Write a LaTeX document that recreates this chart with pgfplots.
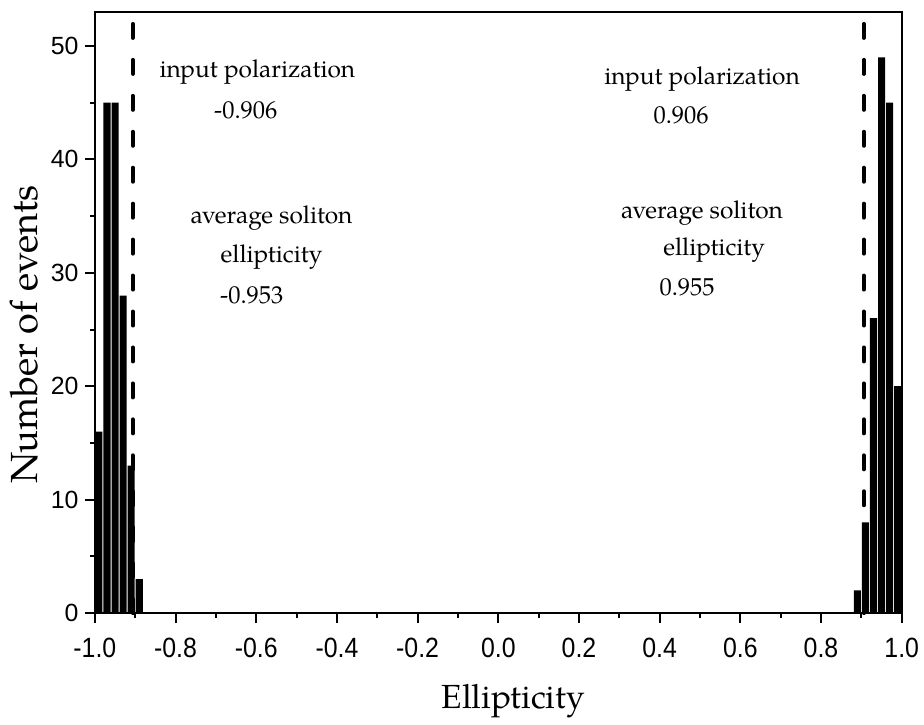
\documentclass[border=0pt]{standalone}
\usepackage{fontspec}
\setmainfont{TeX Gyre Pagella}
\setsansfont{Liberation Sans}
\usepackage{pgfplots}
\pgfplotsset{compat=1.18}

\begin{document}
\begin{tikzpicture}
\begin{axis}[
  scale only axis,
  width=404bp, height=301bp,
  xmin=-1, xmax=1, ymin=0, ymax=53,
  axis line style={line width=1bp},
  every tick/.style={line width=1bp, black},
  tick align=outside,
  major tick length=5bp, minor tick length=2.5bp,
  xtick={-1,-0.8,-0.6,-0.4,-0.2,0,0.2,0.4,0.6,0.8,1},
  minor x tick num=1,
  ytick={0,10,20,30,40,50},
  minor y tick num=1,
  xtick pos=bottom, ytick pos=left,
  /pgf/number format/assume math mode=true,
  tick label style={font=\sffamily\fontsize{12.5}{14}\selectfont},
  xticklabel style={yscale=1.12, inner sep=2.5bp, yshift=-4bp,
    /pgf/number format/.cd, fixed, fixed zerofill, precision=1},
  yticklabel style={inner sep=3bp},
  xlabel={Ellipticity},
  ylabel={Number of events},
  xlabel style={font=\fontsize{16.8}{19}\selectfont, at={(axis description cs:0.5186,-0.146)}, anchor=center},
  ylabel style={font=\fontsize{19}{22}\selectfont, at={(axis description cs:-0.0879,0.4635)}, anchor=center},
  clip=false,
]
% histogram, left peak
\addplot[ybar, bar width=0.0175, fill=black, draw=none] coordinates {
  (-0.99,16) (-0.97,45) (-0.95,45) (-0.93,28) (-0.91,13) (-0.89,3)
};
% histogram, right peak
\addplot[ybar, bar width=0.0175, fill=black, draw=none] coordinates {
  (0.89,2) (0.91,8) (0.93,26) (0.95,49) (0.97,45) (0.99,20)
};
% input polarization markers
\addplot[black, line width=2bp, line cap=round, dash pattern=on 7bp off 11bp]
  coordinates {(-0.906,0) (-0.906,52)};
\addplot[black, line width=2bp, line cap=round, dash pattern=on 7bp off 11bp]
  coordinates {(0.906,0) (0.906,52)};

\begin{scope}[every node/.style={font=\fontsize{12.3}{14}\selectfont, anchor=center}]
\node at (axis cs:-0.597,47.7) {input polarization};
\node at (axis cs:-0.626,44.3) {-0.906};
\node at (axis cs:-0.562,34.8) {average soliton};
\node at (axis cs:-0.562,31.4) {ellipticity};
\node at (axis cs:-0.611,28.0) {-0.953};
\node at (axis cs:0.505,47.1) {input polarization};
\node at (axis cs:0.453,43.9) {0.906};
\node at (axis cs:0.505,35.3) {average soliton};
\node at (axis cs:0.535,32.0) {ellipticity};
\node at (axis cs:0.468,28.7) {0.955};
\end{scope}
% picture frame
\path (axis description cs:-0.1176,-0.1694) (axis description cs:1.026,1.0199);
\end{axis}
\end{tikzpicture}
\end{document}
